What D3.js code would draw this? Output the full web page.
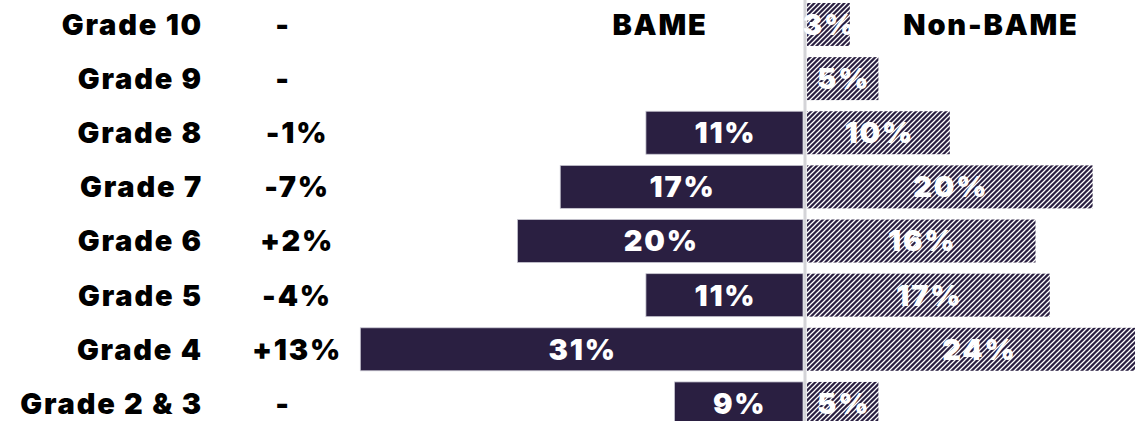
<!DOCTYPE html>
<html>
<head>
<meta charset="utf-8">
<script src="https://cdn.jsdelivr.net/npm/d3@7"></script>
<style>
  html, body { margin: 0; padding: 0; background: #ffffff; }
  svg { display: block; }
  text { font-family: "Inter", "DejaVu Sans", sans-serif; font-weight: 900; letter-spacing: 1.8px; }
</style>
</head>
<body>
<svg id="chart" width="1135" height="421"></svg>
<script>
// Grade distribution, BAME vs Non-BAME (percent of each group)
const categories = ["Grade 10", "Grade 9", "Grade 8", "Grade 7", "Grade 6", "Grade 5", "Grade 4", "Grade 2 & 3"];
const bameValues = [0, 0, 11, 17, 20, 11, 31, 9];
const nonBameValues = [3, 5, 10, 20, 16, 17, 24, 5];
const gapLabels = ["-", "-", "-1%", "-7%", "+2%", "-4%", "+13%", "-"];
const seriesNames = ["BAME", "Non-BAME"];

const W = 1135, H = 421;
const navy = "#2a1f41";
const svg = d3.select("#chart");

// diagonal hatch tile for the Non-BAME bars
const defs = svg.append("defs");
const tile = 5;
const pat = defs.append("pattern")
  .attr("id", "hatch")
  .attr("patternUnits", "userSpaceOnUse")
  .attr("width", tile).attr("height", tile);
pat.append("rect").attr("width", tile).attr("height", tile).attr("fill", navy);
pat.append("path")
  .attr("d", `M-1,${tile + 1} L${tile + 1},-1 M-1,1 L1,-1 M${tile - 1},${tile + 1} L${tile + 1},${tile - 1}`)
  .attr("stroke", "#ffffff").attr("stroke-width", 1.25);

const y = d3.scaleBand()
  .domain(categories)
  .range([-2.6, 430.5])
  .paddingInner(0.206)
  .paddingOuter(0.103);

const centre = 805;
const perPct = 14.28;
const xLeft = d3.scaleLinear().domain([0, 31]).range([centre - 2, centre - 2 - 31 * perPct]);
const xRight = d3.scaleLinear().domain([0, 31]).range([centre + 2, centre + 2 + 31 * perPct]);

const rows = categories.map((c, i) => ({
  cat: c, bame: bameValues[i], non: nonBameValues[i], gap: gapLabels[i]
}));

// centre divider
svg.append("line")
  .attr("x1", centre).attr("x2", centre)
  .attr("y1", 0).attr("y2", H)
  .attr("stroke", "#d4d4d8").attr("stroke-width", 3);

// BAME bars (solid, extend left)
svg.append("g").selectAll("rect").data(rows.filter(d => d.bame > 0)).join("rect")
  .attr("x", d => xLeft(d.bame))
  .attr("y", d => y(d.cat))
  .attr("width", d => xLeft(0) - xLeft(d.bame))
  .attr("height", y.bandwidth())
  .attr("fill", navy)
  .attr("stroke", "#c9c7d2").attr("stroke-width", 0.8);

// Non-BAME bars (hatched, extend right)
svg.append("g").selectAll("rect").data(rows.filter(d => d.non > 0)).join("rect")
  .attr("x", xRight(0))
  .attr("y", d => y(d.cat))
  .attr("width", d => xRight(d.non) - xRight(0))
  .attr("height", y.bandwidth())
  .attr("fill", "url(#hatch)");

const labelSize = 29;

function centredText(g, data, xFn, txt, fill, anchor) {
  g.selectAll("text").data(data).join("text")
    .attr("x", xFn)
    .attr("y", d => y(d.cat) + y.bandwidth() / 2)
    .attr("dy", "0.36em")
    .attr("text-anchor", anchor)
    .attr("font-size", labelSize)
    .attr("fill", fill)
    .text(txt);
}

// value labels inside bars
centredText(svg.append("g"), rows.filter(d => d.bame > 0),
  d => (xLeft(d.bame) + xLeft(0)) / 2 + 1, d => d.bame + "%", "#ffffff", "middle");
centredText(svg.append("g"), rows.filter(d => d.non > 0),
  d => (xRight(d.non) + xRight(0)) / 2 + 1, d => d.non + "%", "#ffffff", "middle");

// category labels
centredText(svg.append("g"), rows, 203, d => d.cat, "#000000", "end");

// gap labels
centredText(svg.append("g"), rows, d => d.gap === "-" ? 283 : 297, d => d.gap, "#000000", "middle");

// series headers
const headY = y(categories[0]) + y.bandwidth() / 2;
svg.append("text")
  .attr("x", 660).attr("y", headY)
  .attr("dy", "0.36em").attr("text-anchor", "middle")
  .attr("font-size", labelSize).attr("fill", "#000")
  .text(seriesNames[0]);
svg.append("text")
  .attr("x", 991).attr("y", headY)
  .attr("dy", "0.36em").attr("text-anchor", "middle")
  .attr("font-size", labelSize).attr("fill", "#000")
  .text(seriesNames[1]);
</script>
</body>
</html>
